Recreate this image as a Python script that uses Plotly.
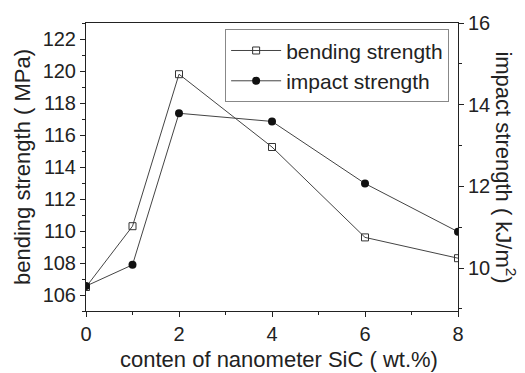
import plotly.graph_objects as go

sic_content = [0, 1, 2, 4, 6, 8]
bending_strength = [106.5, 110.3, 119.8, 115.25, 109.6, 108.3]
impact_strength = [9.56, 10.08, 13.79, 13.59, 12.07, 10.89]

FONT = "Liberation Sans, Arial, sans-serif"
INK = "#222222"

fig = go.Figure()
fig.add_trace(go.Scatter(
    x=sic_content, y=bending_strength, name="bending strength",
    mode="lines+markers",
    line=dict(color="#444444", width=1),
    marker=dict(symbol="square-open", size=7, color="#333333", line=dict(width=1)),
    yaxis="y",
))
fig.add_trace(go.Scatter(
    x=sic_content, y=impact_strength, name="impact strength",
    mode="lines+markers",
    line=dict(color="#444444", width=1),
    marker=dict(symbol="circle", size=8, color="#111111"),
    yaxis="y2",
))

axis_common = dict(
    showgrid=False, zeroline=False, showline=True, linecolor=INK, linewidth=1,
    ticks="outside", ticklen=5, tickcolor=INK, tickwidth=1,
    tickfont=dict(family=FONT, size=20, color=INK),
)

fig.update_layout(
    width=525, height=373,
    margin=dict(l=86, r=67, t=18, b=62),
    paper_bgcolor="white", plot_bgcolor="white",
    font=dict(family=FONT, color=INK),
    showlegend=True,
    xaxis=dict(range=[0, 8], dtick=2, tick0=0, mirror=True,
               minor=dict(dtick=1, ticks="outside", ticklen=3, tickcolor=INK),
               **axis_common),
    yaxis=dict(range=[105, 123], dtick=2, tick0=106,
               minor=dict(dtick=1, ticks="outside", ticklen=3, tickcolor=INK),
               **axis_common),
    yaxis2=dict(range=[8.95, 16], dtick=2, tick0=10, overlaying="y", side="right",
                minor=dict(dtick=1, ticks="outside", ticklen=3, tickcolor=INK),
                **axis_common),
    xaxis2=dict(range=[0, 8], dtick=2, overlaying="x", side="top", showgrid=False,
                zeroline=False, showline=False, ticks="inside", ticklen=5,
                tickcolor=INK, showticklabels=False, anchor="y"),
    legend=dict(
        x=0.374, y=0.978, xanchor="left", yanchor="top",
        bordercolor="#888888", borderwidth=1, bgcolor="white",
        font=dict(family=FONT, size=21, color=INK),
        itemwidth=50, tracegroupgap=0,
    ),
    annotations=[
        dict(text="bending strength ( MPa)", xref="paper", yref="paper",
             x=-0.172, y=0.5, xanchor="center", yanchor="middle", textangle=-90,
             showarrow=False, font=dict(family=FONT, size=22, color=INK)),
        dict(text="impact strength ( kJ/m<sup>2</sup>)", xref="paper", yref="paper",
             x=1.128, y=0.5, xanchor="center", yanchor="middle", textangle=90,
             showarrow=False, font=dict(family=FONT, size=22, color=INK)),
        dict(text="conten of nanometer SiC ( wt.%)", xref="paper", yref="paper",
             x=0.52, y=-0.168, xanchor="center", yanchor="middle",
             showarrow=False, font=dict(family=FONT, size=22, color=INK)),
    ],
)

fig.write_html("out.html")
